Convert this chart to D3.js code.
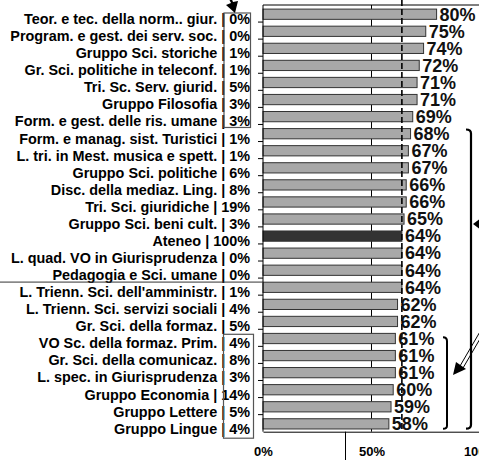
<!DOCTYPE html>
<html>
<head>
<meta charset="utf-8">
<script src="https://cdn.jsdelivr.net/npm/d3@7"></script>
<style>
  body { margin: 0; background: #fff; }
  svg { display: block; font-family: "Liberation Sans", Arial, sans-serif; font-weight: bold; }
</style>
</head>
<body>
<svg id="chart"></svg>
<script>
//Data
const names = ["Teor. e tec. della norm.. giur.", "Program. e gest. dei serv. soc.", "Gruppo Sci. storiche",
  "Gr. Sci. politiche in teleconf.", "Tri. Sc. Serv. giurid.", "Gruppo Filosofia", "Form. e gest. delle ris. umane",
  "Form. e manag. sist. Turistici", "L. tri. in Mest. musica e spett.", "Gruppo Sci. politiche",
  "Disc. della mediaz. Ling.", "Tri. Sci. giuridiche", "Gruppo Sci. beni cult.", "Ateneo",
  "L. quad. VO in Giurisprudenza", "Pedagogia e Sci. umane", "L. Trienn. Sci. dell'amministr.",
  "L. Trienn. Sci. servizi sociali", "Gr. Sci. della formaz. ", "VO Sc. della formaz. Prim.",
  "Gr. Sci. della comunicaz.", "L. spec. in Giurisprudenza", "Gruppo Economia", "Gruppo Lettere", "Gruppo Lingue"];
const shares = [0, 0, 1, 1, 5, 3, 3, 1, 1, 6, 8, 19, 3, 100, 0, 0, 1, 4, 5, 4, 8, 3, 14, 5, 4];
const values = [80, 75, 74, 72, 71, 71, 69, 68, 67, 67, 66, 66, 65, 64, 64, 64, 64, 62, 62, 61, 61, 61, 60, 59, 58];
const xTicks = [0, 50, 100];
const average = "Ateneo";

const rows = names.map((n, i) => ({ name: n, share: shares[i], value: values[i] }));

const w = 479;
const h = 460;
const padLeft = 263;
const padTop = 5;
const axisY = 431.7;

const chart = d3.select("#chart").attr("width", w).attr("height", h);

//Scales
const xScale = d3.scaleLinear().domain([0, 100]).range([padLeft, 480]);
const yScale = d3.scaleBand().domain(names).range([padTop, axisY]);
const step = yScale.step();

//Frame + grid
chart.append("line")
     .attr("x1", padLeft).attr("x2", w).attr("y1", padTop).attr("y2", padTop)
     .attr("stroke", "#000");
chart.append("line")
     .attr("x1", xScale(50)).attr("x2", xScale(50)).attr("y1", padTop).attr("y2", axisY)
     .attr("stroke", "#000");

//Bars
chart.selectAll(".bar")
     .data(rows)
     .enter()
     .append("rect")
     .attr("x", xScale(0))
     .attr("y", (d) => yScale(d.name) + step * 0.24)
     .attr("width", (d) => xScale(d.value) - xScale(0))
     .attr("height", step * 0.6)
     .attr("fill", (d) => d.name === average ? "#333" : "#a8a8a8")
     .attr("stroke", "#333")
     .attr("stroke-width", 1);

//Average dashed line
const avg = rows.find((d) => d.name === average).value;
chart.append("line")
     .attr("x1", xScale(avg)).attr("x2", xScale(avg))
     .attr("y1", 0).attr("y2", axisY)
     .attr("stroke", "#000")
     .attr("stroke-width", 1.6)
     .attr("stroke-dasharray", "6,3");

//Value labels
chart.selectAll(".val")
     .data(rows)
     .enter()
     .append("text")
     .attr("x", (d) => xScale(d.value) + 3)
     .attr("y", (d) => yScale(d.name) + step / 2 + 7)
     .attr("font-size", 18)
     .attr("fill", "#111")
     .text((d) => d.value + "%");

//Y axis (line + ticks at band edges)
chart.append("line")
     .attr("x1", padLeft).attr("x2", padLeft).attr("y1", padTop).attr("y2", axisY)
     .attr("stroke", "#000");
chart.selectAll(".ytick")
     .data(names.slice(1))
     .enter()
     .append("line")
     .attr("x1", padLeft - 5).attr("x2", padLeft)
     .attr("y1", (d) => yScale(d)).attr("y2", (d) => yScale(d))
     .attr("stroke", "#000");

//Category labels
chart.selectAll(".cat")
     .data(rows)
     .enter()
     .append("text")
     .attr("x", 250)
     .attr("y", (d) => yScale(d.name) + step / 2 + 10.5)
     .attr("text-anchor", "end")
     .attr("font-size", 14.4)
     .attr("fill", "#000")
     .text((d) => d.name + " | " + d.share + "%");

//X axis
const xAxis = d3.axisBottom(xScale)
                .tickValues(xTicks)
                .tickSize(0)
                .tickFormat((d) => d + "%");
const gx = chart.append("g")
     .attr("transform", "translate(0, " + axisY + ")")
     .call(xAxis);
gx.select(".domain").attr("stroke", "#000");
gx.selectAll("text")
  .attr("dy", 0)
  .attr("y", 24)
  .attr("font-size", 13)
  .attr("font-weight", "bold")
  .attr("font-family", "Liberation Sans, Arial, sans-serif")
  .attr("fill", "#000");

//Stray line under axis
chart.append("line")
     .attr("x1", 345.5).attr("x2", 345.5).attr("y1", axisY).attr("y2", h)
     .attr("stroke", "#000");

//Separator under Pedagogia
chart.append("line")
     .attr("x1", 0).attr("x2", padLeft)
     .attr("y1", yScale(names[16]) + 4).attr("y2", yScale(names[16]) + 4)
     .attr("stroke", "#333");

//Boxes round the share column
chart.append("rect")
     .attr("x", 224).attr("y", yScale(names[0]) + 8)
     .attr("width", 26.5).attr("height", yScale(names[6]) + step + 3 - yScale(names[0]) - 8)
     .attr("fill", "none").attr("stroke", "#555").attr("stroke-width", 1.2);
chart.append("rect")
     .attr("x", 223.5).attr("y", yScale(names[19]) + 5)
     .attr("width", 30).attr("height", axisY + 6.5 - yScale(names[19]) - 5)
     .attr("fill", "none").attr("stroke", "#555").attr("stroke-width", 1.2);

//Arrows and brackets
// top arrow
chart.append("path")
     .attr("d", "M228,-3L231,3L226,5L235,13L238,1L233,2L231,-3z")
     .attr("fill", "#000");

// big bracket
const bigTop = yScale(names[7]) + 5;
chart.append("path")
     .attr("d", `M466,${bigTop}Q471,${bigTop} 471,${bigTop + 4}L471,${axisY - 7}Q471,${axisY - 3} 466,${axisY - 3}`)
     .attr("fill", "none").attr("stroke", "#000").attr("stroke-width", 2.2);
chart.append("path")
     .attr("d", `M473,${yScale(average) - 3}L481,${yScale(average) - 9}L481,${yScale(average) + 3}z`)
     .attr("fill", "#000");

// small bracket
const smTop = yScale(names[19]) + 8;
chart.append("path")
     .attr("d", `M443,${smTop}Q447,${smTop} 447,${smTop + 4}L447,${axisY - 6}Q447,${axisY - 3} 443,${axisY - 3}`)
     .attr("fill", "none").attr("stroke", "#000").attr("stroke-width", 2);
chart.append("line")
     .attr("x1", 481).attr("y1", 330).attr("x2", 460).attr("y2", 366)
     .attr("stroke", "#000").attr("stroke-width", 1);
chart.append("line")
     .attr("x1", 484).attr("y1", 332).attr("x2", 463).attr("y2", 368)
     .attr("stroke", "#000").attr("stroke-width", 1);
chart.append("path")
     .attr("d", "M453,375L456,362L466,369z")
     .attr("fill", "#000");
</script>
</body>
</html>
